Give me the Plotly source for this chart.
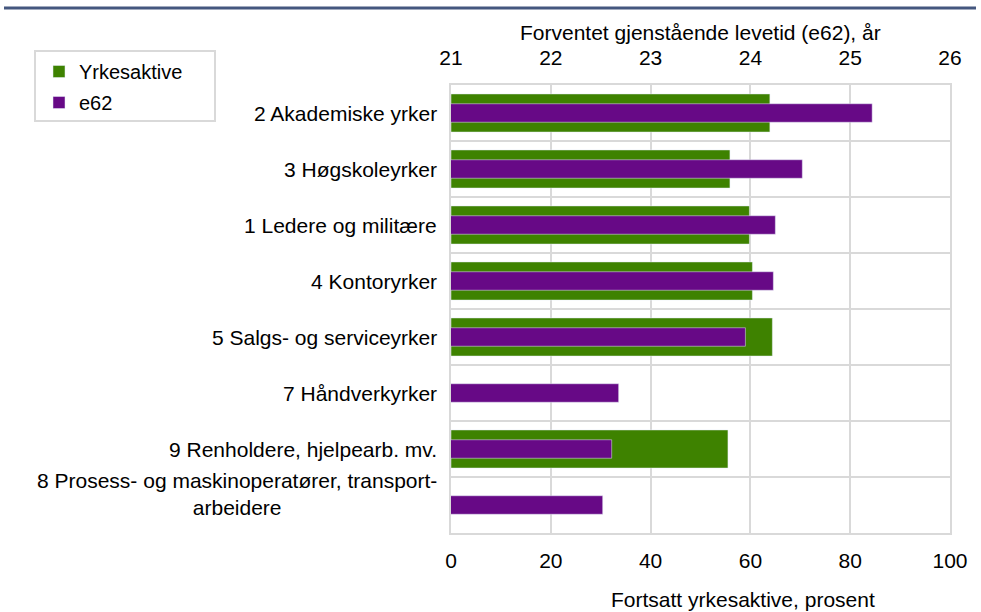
import plotly.graph_objects as go

categories = [
    "2 Akademiske yrker",
    "3 Høgskoleyrker",
    "1 Ledere og militære",
    "4 Kontoryrker",
    "5 Salgs- og serviceyrker",
    "7 Håndverkyrker",
    "9 Renholdere, hjelpearb. mv.",
    "8 Prosess- og maskinoperatører, transport-<br>arbeidere",
]
yrkesaktive = [63.9, 55.9, 59.8, 60.4, 64.4, None, 55.5, None]
e62 = [25.22, 24.52, 24.25, 24.23, 23.95, 22.68, 22.61, 22.52]

x_ticks = [0, 20, 40, 60, 80, 100]
x2_ticks = [21, 22, 23, 24, 25, 26]

GREEN = "#3E8200"
PURPLE = "#670986"
GRID = "#d9d9d9"
FONT = "Liberation Sans, Arial, sans-serif"
FS = 21

# plot area in pixels: x 451-950, y 85-533
def px_x(p):
    return (p - 451) / 499

def px_y(p):
    return 1 + (85 - p) / 448

fig = go.Figure()
fig.add_trace(go.Bar(
    y=categories, x=yrkesaktive, orientation="h", name="Yrkesaktive",
    marker_color=GREEN, width=0.68, xaxis="x", yaxis="y",
    legendgroup="a",
))
fig.add_trace(go.Bar(
    y=categories, x=e62, orientation="h", name="e62",
    marker_color=PURPLE, width=0.33, xaxis="x2", yaxis="y",
    legendgroup="b",
))

for cat in categories:
    # the two-line label sits a bit higher than its bar in the original
    shift = 11 if "<br>" in cat else 0
    fig.add_annotation(
        x=0, xref="paper", y=cat, yref="y", text=cat, yshift=shift,
        xanchor="right", xshift=-12, align="center", showarrow=False,
        font=dict(size=FS, color="#000000", family=FONT),
    )

fig.add_annotation(
    x=0.5, xref="paper", y=px_y(33), yref="paper",
    yanchor="middle", text="Forventet gjenstående levetid (e62), år",
    showarrow=False, font=dict(size=FS, color="#000000", family=FONT),
)
fig.add_annotation(
    x=px_x(743), xref="paper", y=px_y(599), yref="paper",
    yanchor="middle", text="Fortsatt yrkesaktive, prosent", showarrow=False,
    font=dict(size=FS, color="#000000", family=FONT),
)

# top rule and legend frame
fig.add_shape(
    type="line", xref="paper", yref="paper",
    x0=px_x(4), x1=px_x(976), y0=px_y(8), y1=px_y(8),
    line=dict(color="#44577f", width=3),
)
fig.add_shape(
    type="rect", xref="paper", yref="paper",
    x0=px_x(35), x1=px_x(215), y0=px_y(51), y1=px_y(121),
    line=dict(color=GRID, width=2), fillcolor="white",
)

fig.update_layout(
    width=981, height=612,
    margin=dict(l=451, r=31, t=85, b=79, autoexpand=False),
    paper_bgcolor="white", plot_bgcolor="white",
    font=dict(family=FONT, size=FS, color="#000000"),
    barmode="overlay",
    xaxis=dict(
        range=[0, 100], tickvals=x_ticks, showgrid=True, gridcolor=GRID, gridwidth=2,
        zeroline=False, showline=True, linecolor=GRID, linewidth=2, mirror=True,
        ticklabelstandoff=8, fixedrange=True,
    ),
    xaxis2=dict(
        range=[21, 26], tickvals=x2_ticks,
        overlaying="x", side="top", showgrid=False, zeroline=False,
        ticklabelstandoff=15,
    ),
    yaxis=dict(
        range=[len(categories) - 0.5, -0.5], autorange=False,
        showticklabels=False, tickson="boundaries",
        showgrid=True, gridcolor=GRID, gridwidth=2, ticks="",
        showline=True, linecolor=GRID, linewidth=2, mirror=True,
    ),
    legend=dict(
        x=px_x(39), y=px_y(52), xanchor="left", yanchor="top",
        borderwidth=0, bgcolor="rgba(0,0,0,0)",
        traceorder="grouped", tracegroupgap=2, itemwidth=30,
        font=dict(size=20, family=FONT),
    ),
    showlegend=True,
)

fig.write_html(
    "out.html",
    config={"displayModeBar": False},
    post_script="document.body.style.margin='0';",
)
